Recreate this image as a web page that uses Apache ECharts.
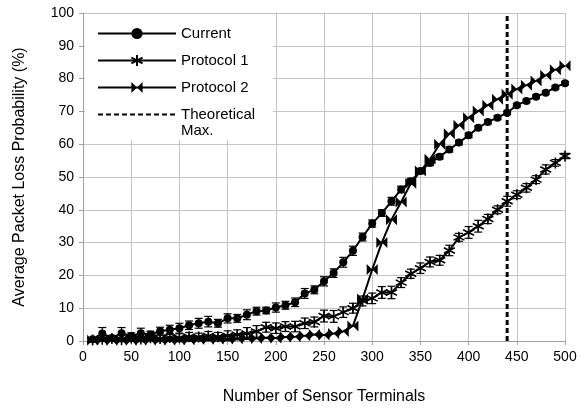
<!DOCTYPE html>
<html>
<head>
<meta charset="utf-8">
<script src="https://cdn.jsdelivr.net/npm/echarts@6/dist/echarts.min.js"></script>
<style>
  html, body { margin: 0; padding: 0; background: #fff; }
  #chart { width: 580px; height: 410px; }
</style>
</head>
<body>
<div id="chart"></div>
<script>
// Number of sensor terminals (x positions of every sample)
const terminals = [10,20,30,40,50,60,70,80,90,100,110,120,130,140,150,160,170,180,190,200,
  210,220,230,240,250,260,270,280,290,300,310,320,330,340,350,360,370,380,390,400,
  410,420,430,440,450,460,470,480,490,500];

// Average packet loss probability (%) per scheme
const currentLoss = [0.5,2.3,0.9,2.4,1.5,2.4,2.0,3.0,3.4,3.9,4.8,5.4,5.9,5.4,6.9,6.9,8.0,9.1,9.3,10.2,
  10.9,11.8,14.5,15.6,18.2,20.7,24.0,27.5,31.7,35.8,39.0,42.6,46.2,48.7,51.8,54.3,56.2,58.4,60.5,62.7,
  65.0,66.8,68.1,69.6,71.9,73.2,74.5,75.7,77.3,78.6];
const protocol1Loss = [0.3,0.5,0.8,0.4,0.9,0.6,1.0,0.8,1.1,1.0,1.3,1.2,1.5,1.3,1.6,1.9,2.3,2.9,4.2,3.9,
  4.4,4.4,5.4,5.8,7.6,7.5,8.8,10.0,12.2,13.0,14.8,14.8,17.8,20.5,22.2,24.1,24.6,27.6,31.6,33.1,
  35.0,37.2,40.0,42.6,44.6,46.7,49.2,52.3,54.3,56.4];
const protocol2Loss = [0.2,0.3,0.2,0.3,0.2,0.3,0.3,0.4,0.3,0.4,0.4,0.5,0.5,0.6,0.6,0.7,0.9,0.8,1.0,0.9,
  1.2,1.3,1.6,2.0,1.8,2.3,2.9,4.6,12.8,21.8,30.0,37.0,42.4,48.0,51.8,55.4,60.0,63.2,65.8,68.1,
  70.1,71.9,73.7,75.2,76.8,78.0,79.3,81.0,82.7,83.9];

// Half-widths of the confidence intervals (%)
const currentErr = [0.5,1.8,0.8,1.7,1.0,1.5,1.0,1.2,1.4,1.5,1.3,1.5,1.6,1.2,1.4,1.2,1.5,1.2,1.0,1.4,
  1.2,1.3,1.5,1.2,1.4,1.3,1.5,1.4,1.2,1.1,1.0,1.2,1.0,0.9,0.8,0.8,0.7,0.8,0.7,0.7,
  0.6,0.6,0.6,0.5,0.5,0.5,0.5,0.5,0.5,0.5];
const protocol1Err = [0.5,0.6,0.8,0.6,1.0,0.8,1.0,1.0,1.2,1.2,1.3,1.2,1.4,1.3,1.5,1.5,1.8,1.8,1.5,1.6,
  1.5,1.6,1.6,1.5,1.8,1.8,1.6,1.5,1.5,1.6,1.8,1.9,1.5,1.4,1.6,1.5,1.5,1.6,1.2,1.8,
  1.8,1.4,1.2,1.5,1.2,1.3,1.2,1.4,1.0,0.8];

// Theoretical maximum number of terminals
const theoreticalMax = 440;

const xTicks = { min: 0, max: 500, interval: 50 };
const yTicks = { min: 0, max: 100, interval: 10 };

const FONT = '"Liberation Sans", Arial, sans-serif';

const pairs = (ys) => terminals.map((x, i) => [x, ys[i]]);
const errRows = (ys, es) => terminals.map((x, i) => [x, ys[i] - es[i], ys[i] + es[i]]);

function errorBars(params, api) {
  const x = api.value(0);
  const lo = api.coord([x, api.value(1)]);
  const hi = api.coord([x, api.value(2)]);
  const half = 4;
  const style = { stroke: '#000', lineWidth: 1.2, fill: null };
  return {
    type: 'group',
    children: [
      { type: 'line', shape: { x1: lo[0], y1: lo[1], x2: hi[0], y2: hi[1] }, style },
      { type: 'line', shape: { x1: lo[0] - half, y1: lo[1], x2: lo[0] + half, y2: lo[1] }, style },
      { type: 'line', shape: { x1: hi[0] - half, y1: hi[1], x2: hi[0] + half, y2: hi[1] }, style }
    ]
  };
}

const asterisk = 'path://M0,-5L0,5M-4.3,-2.5L4.3,2.5M-4.3,2.5L4.3,-2.5';
const bowtie = 'path://M-5,-5L0,0L-5,5ZM5,-5L0,0L5,5Z';

const chart = echarts.init(document.getElementById('chart'), null, { renderer: 'canvas' });

chart.setOption({
  animation: false,
  textStyle: { fontFamily: FONT, color: '#000' },
  grid: { left: 83, right: 15, top: 13, bottom: 69 },
  xAxis: {
    type: 'value',
    min: xTicks.min, max: xTicks.max, interval: xTicks.interval,
    name: 'Number of Sensor Terminals',
    nameLocation: 'middle',
    nameGap: 48,
    nameTextStyle: { fontSize: 16, fontFamily: FONT, color: '#000' },
    axisLine: { lineStyle: { color: '#a0a0a0', width: 1 } },
    axisTick: { show: true, length: 4, lineStyle: { color: '#a0a0a0' } },
    axisLabel: { fontSize: 14, color: '#000', margin: 9, fontFamily: FONT },
    splitLine: { show: true, lineStyle: { color: '#c4c4c4', width: 1 } }
  },
  yAxis: {
    type: 'value',
    min: yTicks.min, max: yTicks.max, interval: yTicks.interval,
    name: 'Average Packet Loss Probability (%)',
    nameLocation: 'middle',
    nameGap: 55,
    nameTextStyle: { fontSize: 16, fontFamily: FONT, color: '#000' },
    axisLine: { show: true, lineStyle: { color: '#a0a0a0', width: 1 } },
    axisTick: { show: true, length: 4, lineStyle: { color: '#a0a0a0' } },
    axisLabel: { fontSize: 14, color: '#000', margin: 9, fontFamily: FONT },
    splitLine: { show: true, lineStyle: { color: '#c4c4c4', width: 1 } }
  },
  legend: {
    left: 85, top: 14,
    orient: 'vertical',
    backgroundColor: '#fff',
    padding: [12, 18, 18, 12],
    itemWidth: 78, itemHeight: 14, itemGap: 12,
    textStyle: { fontSize: 15, fontFamily: FONT, color: '#000' },
    data: [
      'Current',
      'Protocol 1',
      'Protocol 2',
      { name: 'Theoretical', itemStyle: { opacity: 0 } }
    ]
  },
  graphic: [{
    type: 'text',
    left: 181, top: 123,
    z: 100,
    style: { text: 'Max.', font: '15px ' + FONT, fill: '#000' }
  }],
  series: [
    {
      name: 'Current error',
      type: 'custom',
      renderItem: errorBars,
      data: errRows(currentLoss, currentErr),
      encode: { x: 0, y: [1, 2] },
      z: 3
    },
    {
      name: 'Protocol 1 error',
      type: 'custom',
      renderItem: errorBars,
      data: errRows(protocol1Loss, protocol1Err),
      encode: { x: 0, y: [1, 2] },
      z: 3
    },
    {
      name: 'Current',
      type: 'line',
      data: pairs(currentLoss),
      symbol: 'circle',
      symbolSize: 8,
      color: '#000',
      lineStyle: { color: '#000', width: 2 },
      itemStyle: { color: '#000' },
      z: 5
    },
    {
      name: 'Protocol 1',
      type: 'line',
      data: pairs(protocol1Loss),
      symbol: asterisk,
      symbolSize: 11,
      color: '#000',
      lineStyle: { color: '#000', width: 2 },
      itemStyle: { color: 'rgba(0,0,0,0)', borderColor: '#000', borderWidth: 1.6 },
      z: 5
    },
    {
      name: 'Protocol 2',
      type: 'line',
      data: pairs(protocol2Loss),
      symbol: bowtie,
      symbolSize: 11,
      color: '#000',
      lineStyle: { color: '#000', width: 2 },
      itemStyle: { color: '#000' },
      z: 5
    },
    {
      name: 'Theoretical',
      type: 'line',
      data: [[theoreticalMax, yTicks.min], [theoreticalMax, yTicks.max]],
      symbol: 'none',
      color: '#000',
      lineStyle: { color: '#000', width: 3, type: [5, 3] },
      z: 4
    }
  ]
});
</script>
</body>
</html>
